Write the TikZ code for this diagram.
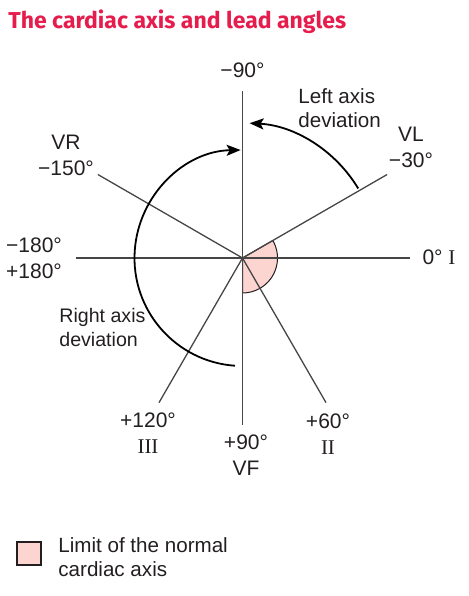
\documentclass[tikz,border=0pt]{standalone}
\usepackage{fontspec}
\setmainfont{Liberation Sans}
\newfontfamily\romfont{Liberation Serif}
\newfontfamily\headfont{Fira Sans}
\usetikzlibrary{arrows.meta}
\definecolor{headred}{RGB}{230,28,77}
\definecolor{normpink}{RGB}{253,213,208}
\definecolor{leadgray}{RGB}{70,70,70}
\definecolor{inkblack}{RGB}{35,31,32}

\begin{document}
\begin{tikzpicture}[x=0.5pt, y=-0.5pt,
    lbl/.style={font=\fontsize{10.5}{13}\selectfont, text=inkblack, align=center, inner sep=0pt},
    devlbl/.style={lbl, align=left, anchor=west, font=\fontsize{10.3}{12}\selectfont},
    leadline/.style={draw=leadgray, line width=0.65pt},
    devarc/.style={draw=black, line width=0.9pt, -{Stealth[length=7pt, width=5.5pt, inset=1.5pt]}}
  ]
  \useasboundingbox (0,0) rectangle (468,596);
  \node[anchor=west, inner sep=0pt, text=headred, font=\headfont\bfseries\fontsize{11.5}{14}\selectfont] (title) at (8,22) {The cardiac axis and lead angles};

  \coordinate (c) at (242.5,258);
  % normal range of the axis
  \filldraw[fill=normpink, draw=inkblack, line width=0.5pt] (c) -- ++(-30:35) arc[start angle=-30, end angle=90, radius=35] -- cycle;
  % lead lines
  \foreach \a/\n in {0/lI, -30/lVL, -90/lm90, -150/lVR, 180/l180, 120/lIII, 90/lVF, 60/lII}{
    \path (c) ++(\a:167) coordinate (\n);
    \draw[leadline] (c) -- (\n);
  }

  % deviation arcs
  \path (c) ++(94:108) coordinate (rs);
  \draw[devarc] (rs) arc[start angle=94, end angle=269, radius=108];
  \path (c) ++(-31:135) coordinate (ls);
  \draw[devarc] (ls) arc[start angle=-31, end angle=-87, radius=135];

  \node[lbl] (m90) at (242.5,70) {−90°};
  \node[lbl] (vl) at (411,147) {VL\\−30°};
  \node[lbl] (vr) at (66,155) {VR\\−150°};
  \node[lbl] (m180) at (34,258) {−180°\\+180°};
  \node[lbl] (zero) at (439,257) {0° {\romfont I}};
  \node[lbl] (p120) at (148,433) {+120°\\{\romfont III}};
  \node[lbl] (p90) at (246,455) {+90°\\VF};
  \node[lbl] (p60) at (328,434) {+60°\\{\romfont II}};
  \node[devlbl] (ladev) at (298,108) {Left axis\\deviation};
  \node[devlbl, font=\fontsize{9.8}{12}\selectfont] (radev) at (59,327) {Right axis\\deviation};

  % key
  \node[draw=inkblack, fill=normpink, minimum width=12pt, minimum height=11.5pt, inner sep=0pt, line width=0.6pt] (key) at (29,553.5) {};
  \node[devlbl] (keytxt) at (58,557) {Limit of the normal\\cardiac axis};
\end{tikzpicture}
\end{document}
